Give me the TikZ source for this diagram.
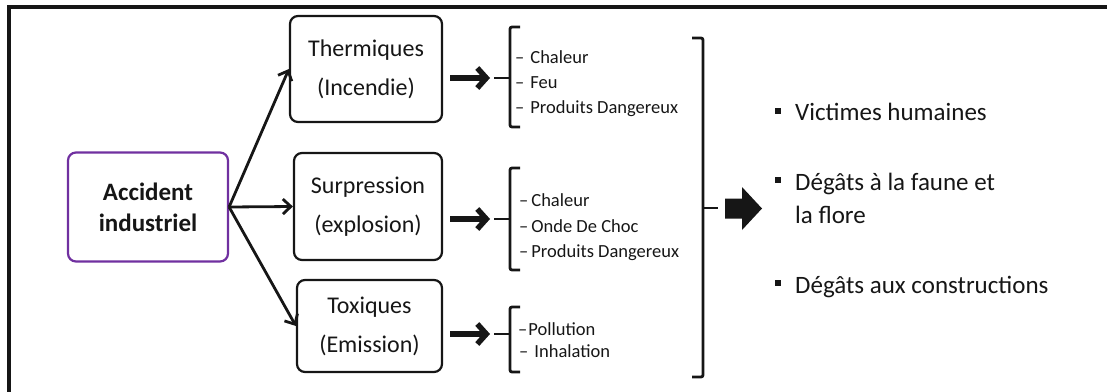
\documentclass[tikz,border=0pt]{standalone}
\usepackage{fontspec}
\setmainfont{Carlito}
\usetikzlibrary{arrows.meta}
\definecolor{ink}{HTML}{161616}
\definecolor{violet}{HTML}{7030A0}
\begin{document}
\begin{tikzpicture}[x=1pt,y=-1pt,
  box/.style={draw=ink, line width=2.2pt, rounded corners=8pt, align=center,
    text=ink, inner sep=0pt, font=\fontsize{24}{39}\selectfont},
  rootbox/.style={draw=violet, line width=2.2pt, rounded corners=8pt, align=center,
    text=ink, inner sep=0pt, font=\fontsize{25}{31}\selectfont\bfseries},
  link/.style={draw=ink, line width=2.8pt, -{Straight Barb[length=8pt,width=15pt]}},
  fat/.style={draw=ink, line width=5.5pt, -{Straight Barb[length=9pt,width=20pt]}},
  brk/.style={draw=ink, line width=2.8pt, rounded corners=2pt},
  item/.style={anchor=base west, inner sep=0pt, text=ink, font=\fontsize{18.5}{22}\selectfont},
  effect/.style={anchor=base west, inner sep=0pt, text=ink, font=\fontsize{25}{30}\selectfont},
]
\useasboundingbox (0,0) rectangle (1107,391);
\clip (0,0) rectangle (1107,391);

% outer frame, running off the right and bottom edges
\draw[ink, line width=3.5pt] (9,420) -- (9,7) -- (1130,7);

% source and the three families of effects
\node[rootbox, minimum width=160pt, minimum height=109pt] (acc) at (148,207) {Accident\\industriel};
\node[box, minimum width=152pt, minimum height=106pt] (th) at (366,69) {Thermiques\\(Incendie)};
\node[box, minimum width=148pt, minimum height=107pt] (su) at (368,206.5) {Surpression\\(explosion)};
\node[box, minimum width=145pt, minimum height=92pt] (tx) at (369.5,326) {Toxiques\\(Emission)};

\draw[link] (acc.east) -- (th.west);
\draw[link] (acc.east) -- (su.west);
\draw[link] (acc.east) -- (tx.west);

% anchor points of the brackets
\coordinate (s1) at (450,78);  \coordinate (b1) at (494,78);
\coordinate (s2) at (450,219); \coordinate (b2) at (494,219);
\coordinate (s3) at (450,334); \coordinate (b3) at (494,334);

\draw[fat] (s1) -- ([xshift=-4pt]b1);
\draw[fat] (s2) -- ([xshift=-4pt]b2);
\draw[fat] (s3) -- ([xshift=-4pt]b3);

% small brackets
\draw[brk] (520,27) -- (510,27) -- (510,127) -- (520,127);
\draw[brk] (b1) -- (510,78);
\draw[brk] (520,168) -- (510,168) -- (510,270) -- (520,270);
\draw[brk] (b2) -- (510,219);
\draw[brk] (520,307) -- (510,307) -- (510,372) -- (520,372);
\draw[brk] (b3) -- (510,334);

% phenomena
\node[item] (c1) at (515,63)  {–\hspace{6pt}Chaleur};
\node[item] (c2) at (515,88)  {–\hspace{6pt}Feu};
\node[item] (c3) at (515,113) {–\hspace{6pt}Produits Dangereux};
\node[item] (c4) at (519,206) {–\hspace{3pt}Chaleur};
\node[item] (c5) at (519,232) {–\hspace{3pt}Onde De Choc};
\node[item] (c6) at (519,257) {–\hspace{3pt}Produits Dangereux};
\node[item] (c7) at (518,335) {–\hspace{1pt}Pollution};
\node[item] (c8) at (519,357) {–\hspace{6pt}Inhalation};

% large bracket gathering everything
\draw[brk] (692,38) -- (703,38) -- (703,377) -- (692,377);
\coordinate (g) at (718,208);
\draw[brk] (703,208) -- (g);

% block arrow towards the consequences
\fill[ink] (725,198.5) -- (742,198.5) -- (742,187) -- (762,208.5) -- (742,230)
  -- (742,218.5) -- (725,218.5) -- cycle;

% consequences
\node[effect] (e1) at (775,120) {\raisebox{6pt}{\rule{6pt}{6pt}}\hspace{14pt}Victimes humaines};
\node[effect] (e2) at (775,190) {\raisebox{7pt}{\rule{6pt}{6pt}}\hspace{14pt}Dégâts à la faune et};
\node[effect] (e3) at (795,223) {la flore};
\node[effect] (e4) at (775,293) {\raisebox{7pt}{\rule{6pt}{6pt}}\hspace{14pt}Dégâts aux constructions};
\end{tikzpicture}
\end{document}
